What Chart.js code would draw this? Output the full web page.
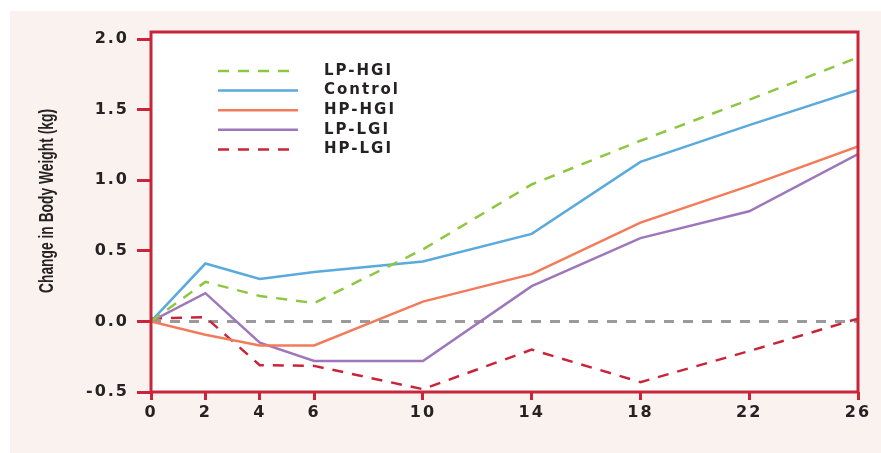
<!DOCTYPE html>
<html>
<head>
<meta charset="utf-8">
<script src="https://cdn.jsdelivr.net/npm/chart.js@4"></script>
<style>
  html, body { margin: 0; padding: 0; background: #fff; }
</style>
</head>
<body>
<canvas id="chart" width="881" height="453"></canvas>
<script>
// weeks on study
const WEEKS = [0, 2, 4, 6, 10, 14, 18, 22, 26];
const Y_TICKS = [-0.5, 0, 0.5, 1.0, 1.5, 2.0];

// change in body weight (kg)
const LP_HGI = [0, 0.28, 0.18, 0.13, 0.51, 0.97, 1.28, 1.57, 1.87];
const CONTROL = [0, 0.41, 0.30, 0.35, 0.425, 0.62, 1.13, 1.39, 1.64];
const HP_HGI = [0, -0.095, -0.17, -0.17, 0.14, 0.335, 0.70, 0.96, 1.24];
const LP_LGI = [0, 0.20, -0.15, -0.28, -0.28, 0.25, 0.59, 0.78, 1.185];
const HP_LGI = [0.02, 0.03, -0.31, -0.315, -0.48, -0.20, -0.43, -0.21, 0.02];
const ZERO_LINE = [0, 0];

const RED = "#c8243a";
const PANEL = "#faf2ef";
const TEXT = "#262223";
const TICK_FONT = { family: "'DejaVu Sans', sans-serif", size: 16, weight: "bold" };
const Y_TITLE = "Change in Body Weight (kg)";

const toPoints = (ys) => ys.map((y, i) => ({ x: WEEKS[i], y }));

function series(label, ys, color, dash) {
  return {
    label,
    data: toPoints(ys),
    borderColor: color,
    backgroundColor: color,
    borderWidth: 2.5,
    borderDash: dash || [],
    pointRadius: 0,
    tension: 0,
  };
}

/* ===== background, frame, legend, axis title ===== */
const frame = {
  id: "frame",
  beforeDraw(chart) {
    const { ctx, chartArea: a } = chart;
    ctx.save();
    ctx.fillStyle = "#fff";
    ctx.fillRect(0, 0, chart.width, chart.height);
    ctx.fillStyle = PANEL;
    ctx.fillRect(10, 11, chart.width - 10, chart.height - 11);
    ctx.fillStyle = "#fff";
    ctx.fillRect(a.left, a.top, a.right - a.left, a.bottom - a.top);
    ctx.restore();
    ctx.letterSpacing = "2px"; // the source font is set wide
  },
  afterDatasetsDraw(chart) {
    const { ctx, chartArea: a } = chart;
    ctx.save();
    ctx.strokeStyle = RED;
    ctx.lineWidth = 3;
    ctx.strokeRect(a.left, a.top, a.right - a.left, a.bottom - a.top);

    // legend inside the plot
    const items = chart.data.datasets.filter((d) => d.label);
    ctx.font = "bold 15px 'DejaVu Sans', sans-serif";
    ctx.textBaseline = "middle";
    items.forEach((d, i) => {
      const y = 71 + i * 19.6;
      ctx.beginPath();
      ctx.setLineDash(d.borderDash);
      ctx.strokeStyle = d.borderColor;
      ctx.lineWidth = 2.5;
      ctx.moveTo(218, y);
      ctx.lineTo(298, y);
      ctx.stroke();
      ctx.setLineDash([]);
      ctx.fillStyle = TEXT;
      ctx.fillText(d.label, 324, y);
    });
    ctx.restore();
  },
  afterDraw(chart) {
    // condensed y title, squeezed to the source's length
    const { ctx } = chart;
    ctx.save();
    ctx.letterSpacing = "0px";
    ctx.font = "600 21px 'Liberation Sans', sans-serif";
    const squeeze = 184 / ctx.measureText(Y_TITLE).width;
    ctx.translate(47, 201);
    ctx.rotate(-Math.PI / 2);
    ctx.scale(squeeze, 1);
    ctx.fillStyle = TEXT;
    ctx.textAlign = "center";
    ctx.textBaseline = "middle";
    ctx.fillText(Y_TITLE, 0, 0);
    ctx.restore();
  },
};

new Chart(document.getElementById("chart"), {
  type: "line",
  data: {
    datasets: [
      series("LP-HGI", LP_HGI, "#8dc641", [11, 9]),
      series("Control", CONTROL, "#5aaadd"),
      series("HP-HGI", HP_HGI, "#f27b5a"),
      series("LP-LGI", LP_LGI, "#9e77bb"),
      series("HP-LGI", HP_LGI, RED, [11, 9]),
      {
        data: [
          { x: WEEKS[0], y: ZERO_LINE[0] },
          { x: WEEKS[WEEKS.length - 1], y: ZERO_LINE[1] },
        ],
        borderColor: "#9a9a9a",
        borderWidth: 3,
        borderDash: [10, 9],
        pointRadius: 0,
      },
    ],
  },
  options: {
    responsive: false,
    animation: false,
    layout: { padding: { top: 32, right: 23, left: 0, bottom: 0 } },
    plugins: { legend: { display: false }, tooltip: { enabled: false } },
    scales: {
      x: {
        type: "linear",
        min: 0,
        max: 26,
        afterBuildTicks: (s) => { s.ticks = WEEKS.map((v) => ({ value: v })); },
        afterFit: (s) => { s.height = 61; },
        border: { display: false },
        grid: { drawOnChartArea: false, drawTicks: true, tickLength: 8, tickWidth: 3, tickColor: RED },
        ticks: { color: TEXT, font: TICK_FONT, padding: 3, maxRotation: 0, autoSkip: false },
      },
      y: {
        min: -0.5,
        max: 2.05,
        afterBuildTicks: (s) => { s.ticks = Y_TICKS.map((v) => ({ value: v })); },
        afterFit: (s) => { s.width = 151; },
        border: { display: false },
        grid: { drawOnChartArea: false, drawTicks: true, tickLength: 14, tickWidth: 3, tickColor: RED },
        ticks: { color: TEXT, font: TICK_FONT, padding: 8, callback: (v) => v.toFixed(1) },
      },
    },
  },
  plugins: [frame],
});
</script>
</body>
</html>
